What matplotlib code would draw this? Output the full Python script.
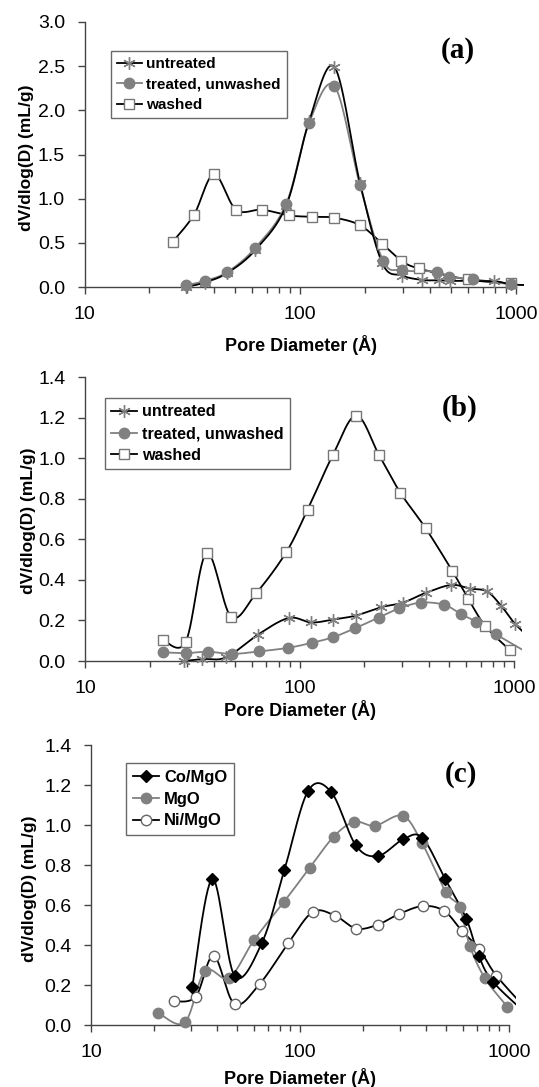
import numpy as np
import matplotlib
matplotlib.use('Agg')
import matplotlib.pyplot as plt
from matplotlib.ticker import FixedLocator, LogLocator, NullFormatter

plt.rcParams['font.family'] = ['Liberation Sans', 'DejaVu Sans']

# ---- panel (a) ----
a_untreated_d = [29.5, 36, 46, 62, 86, 110, 144, 189, 240, 296, 368, 442, 497, 790, 944, 1200]
a_untreated_v = [0.0, 0.05, 0.16, 0.42, 0.92, 1.88, 2.49, 1.18, 0.27, 0.13, 0.08, 0.075, 0.07, 0.065, 0.03, 0.02]
a_treated_d = [29.5, 36, 46, 62, 86, 110, 144, 189, 242, 296, 430, 491, 630, 944, 1200]
a_treated_v = [0.02, 0.068, 0.17, 0.445, 0.94, 1.86, 2.275, 1.155, 0.30, 0.19, 0.175, 0.115, 0.09, 0.03, 0.02]
a_washed_d = [25.6, 32.2, 39.8, 50.4, 66.6, 89, 113, 143, 189, 240, 294, 354, 597, 944]
a_washed_v = [0.51, 0.82, 1.275, 0.875, 0.875, 0.81, 0.795, 0.785, 0.70, 0.49, 0.30, 0.21, 0.085, 0.04]

# ---- panel (b) ----
b_untreated_d = [28.8, 35.3, 45.5, 64, 89, 113.5, 143, 183, 240, 304, 388, 510, 621, 748, 873, 1010, 1250]
b_untreated_v = [0.0, 0.01, 0.018, 0.13, 0.212, 0.19, 0.204, 0.224, 0.265, 0.288, 0.336, 0.375, 0.357, 0.343, 0.271, 0.184, 0.09]
b_treated_d = [23, 29.6, 37.3, 48.5, 64.5, 88.5, 114.5, 144, 182, 234, 291, 368, 473, 566, 667, 820, 1250]
b_treated_v = [0.043, 0.039, 0.046, 0.035, 0.047, 0.065, 0.09, 0.118, 0.162, 0.214, 0.259, 0.288, 0.277, 0.231, 0.194, 0.133, 0.02]
b_washed_d = [23.1, 29.5, 36.9, 48, 62.8, 86.7, 109, 143, 184, 235, 295, 387, 515, 613, 736, 960]
b_washed_v = [0.103, 0.095, 0.533, 0.218, 0.334, 0.536, 0.745, 1.015, 1.21, 1.015, 0.83, 0.655, 0.445, 0.305, 0.172, 0.052]

# ---- panel (c) ----
c_co_d = [30.5, 38.1, 48.7, 65.8, 84.2, 109.3, 141, 185, 236, 311, 384, 496, 624, 716, 840, 1260]
c_co_v = [0.19, 0.73, 0.245, 0.412, 0.775, 1.17, 1.165, 0.898, 0.845, 0.928, 0.937, 0.728, 0.532, 0.347, 0.215, 0.04]
c_mgo_d = [21, 28.1, 35.1, 45.8, 60.2, 83.7, 111.5, 145, 182, 228, 310, 384, 498, 580, 650, 768, 981]
c_mgo_v = [0.06, 0.013, 0.27, 0.235, 0.424, 0.615, 0.787, 0.942, 1.016, 0.996, 1.046, 0.909, 0.666, 0.589, 0.394, 0.233, 0.092]
c_ni_d = [25, 31.7, 38.6, 48.6, 64.2, 88.1, 115, 147, 186, 236, 299, 388, 490, 596, 719, 870, 1260]
c_ni_v = [0.118, 0.142, 0.346, 0.105, 0.206, 0.41, 0.565, 0.547, 0.482, 0.502, 0.556, 0.595, 0.57, 0.47, 0.381, 0.247, 0.06]

W, H = 539, 1087
GRAY = '#808080'
fig = plt.figure(figsize=(W / 100, H / 100), dpi=100)


def smooth(xs, ys, n=30):
    # excel-like smoothed line (catmull-rom bezier in log-x space)
    lx = np.log10(np.asarray(xs, float))
    y = np.asarray(ys, float)
    px = np.concatenate([[lx[0]], lx, [lx[-1]]])
    py = np.concatenate([[y[0]], y, [y[-1]]])
    t = np.linspace(0, 1, n)[:, None]
    out = []
    for i in range(len(lx) - 1):
        p0 = np.array([px[i], py[i]])
        p1 = np.array([px[i + 1], py[i + 1]])
        p2 = np.array([px[i + 2], py[i + 2]])
        p3 = np.array([px[i + 3], py[i + 3]])
        c1 = p1 + (p2 - p0) / 6
        c2 = p2 - (p3 - p1) / 6
        seg = ((1 - t) ** 3) * p1 + 3 * ((1 - t) ** 2) * t * c1 + 3 * (1 - t) * t ** 2 * c2 + t ** 3 * p2
        out.append(seg)
    out = np.vstack(out)
    return 10 ** out[:, 0], out[:, 1]


def make_axes(px10, px1000, py0, pytop, ymax, step, xhi=1085, ylo_frac=0.04):
    dec = (px1000 - px10) / 2
    left = px10
    right = px10 + dec * (np.log10(xhi) - 1)
    per = (py0 - pytop) / ymax
    ylo = -ymax * ylo_frac
    bottom = py0 - ylo * per
    ax = fig.add_axes([left / W, 1 - bottom / H, (right - left) / W, (bottom - pytop) / H])
    ax.set_xscale('log')
    ax.set_xlim(10, xhi)
    ax.set_ylim(ylo, ymax)
    for s in ['top', 'right']:
        ax.spines[s].set_visible(False)
    ax.spines['bottom'].set_position(('data', 0))
    ax.spines['bottom'].set_bounds(10, 1000)
    ax.spines['left'].set_bounds(0, ymax)
    for s in ['bottom', 'left']:
        ax.spines[s].set_color('#444444')
        ax.spines[s].set_linewidth(1.0)
    ax.xaxis.set_major_locator(FixedLocator([10, 100, 1000]))
    ax.xaxis.set_minor_locator(LogLocator(base=10, subs=np.arange(2, 10), numticks=20))
    ax.xaxis.set_minor_formatter(NullFormatter())
    ax.set_xticklabels(['10', '100', '1000'])
    yt = np.arange(0, ymax + 1e-9, step)
    ax.set_yticks(yt)
    ax.set_yticklabels(['%.1f' % v for v in yt])
    ax.tick_params(axis='both', which='both', direction='out', color='#444444',
                   labelsize=14, width=1.0)
    ax.tick_params(axis='both', which='major', length=5, pad=9)
    ax.tick_params(axis='x', which='minor', length=4)
    ax.patch.set_visible(False)
    return ax


def series(ax, d, v, label, lcolor, **mk):
    sx, sy = smooth(d, v)
    ax.plot(sx, sy, color=lcolor, lw=1.3, zorder=2)
    ax.plot(d, v, linestyle='none', zorder=3, **mk)
    ax.plot([], [], color=lcolor, lw=1.3, label=label, **mk)


def decorate(ax, xl, yl, letter, lg, lsize):
    ax.set_xlabel('Pore Diameter (Å)', fontsize=13, fontweight='bold')
    ax.xaxis.set_label_coords(xl[0] / W, 1 - xl[1] / H, transform=fig.transFigure)
    ax.xaxis.label.set_va('center')
    ax.set_ylabel('dV/dlog(D) (mL/g)', fontsize=12.5, fontweight='bold')
    ax.yaxis.set_label_coords(yl[0] / W, 1 - yl[1] / H, transform=fig.transFigure)
    ax.yaxis.label.set_va('center')
    fig.text(letter[1][0] / W, 1 - letter[1][1] / H, letter[0], fontsize=21, fontweight='bold',
             family=['Liberation Serif', 'DejaVu Serif'], ha='center', va='center')
    h, l = ax.get_legend_handles_labels()
    leg = ax.legend(h[::-1], l[::-1], loc='upper left', bbox_to_anchor=(lg[0] / W, 1 - lg[1] / H),
                    bbox_transform=fig.transFigure, borderaxespad=0,
                    prop={'weight': 'bold', 'size': lsize}, fancybox=False,
                    edgecolor='#444444', handlelength=1.6, handletextpad=0.3,
                    labelspacing=0.42, borderpad=0.4)
    leg.get_frame().set_linewidth(1.0)


star = dict(marker=(6, 2, 0), markersize=9, markeredgecolor=GRAY, markerfacecolor=GRAY, markeredgewidth=1.0)
dot = dict(marker='o', markersize=7.5, markeredgecolor=GRAY, markerfacecolor=GRAY, markeredgewidth=1.0)
box = dict(marker='s', markersize=7.5, markeredgecolor='#777777', markerfacecolor='white', markeredgewidth=1.0)
diam = dict(marker='D', markersize=6.5, markeredgecolor='black', markerfacecolor='black', markeredgewidth=1.0)
ring = dict(marker='o', markersize=7.5, markeredgecolor='#666666', markerfacecolor='white', markeredgewidth=1.0)

# (a)
ax = make_axes(84.5, 516, 287, 22, 3.0, 0.5)
series(ax, a_washed_d, a_washed_v, 'washed', 'black', **box)
series(ax, a_treated_d, a_treated_v, 'treated, unwashed', GRAY, **dot)
series(ax, a_untreated_d, a_untreated_v, 'untreated', 'black', **star)
decorate(ax, (301, 345), (27, 158), ('(a)', (458, 50)), (111, 51), 11)

# (b)
ax = make_axes(85, 514, 661, 377, 1.4, 0.2)
series(ax, b_washed_d, b_washed_v, 'washed', 'black', **box)
series(ax, b_treated_d, b_treated_v, 'treated, unwashed', GRAY, **dot)
series(ax, b_untreated_d, b_untreated_v, 'untreated', 'black', **star)
decorate(ax, (300, 710), (29, 521), ('(b)', (460, 408)), (105, 398), 11.6)

# (c)
ax = make_axes(91, 509, 1025, 745, 1.4, 0.2)
series(ax, c_ni_d, c_ni_v, 'Ni/MgO', 'black', **ring)
series(ax, c_mgo_d, c_mgo_v, 'MgO', GRAY, **dot)
series(ax, c_co_d, c_co_v, 'Co/MgO', 'black', **diam)
decorate(ax, (300, 1078), (30, 889), ('(c)', (461, 774)), (126, 763), 11.9)

fig.savefig('out.png', dpi=100)
